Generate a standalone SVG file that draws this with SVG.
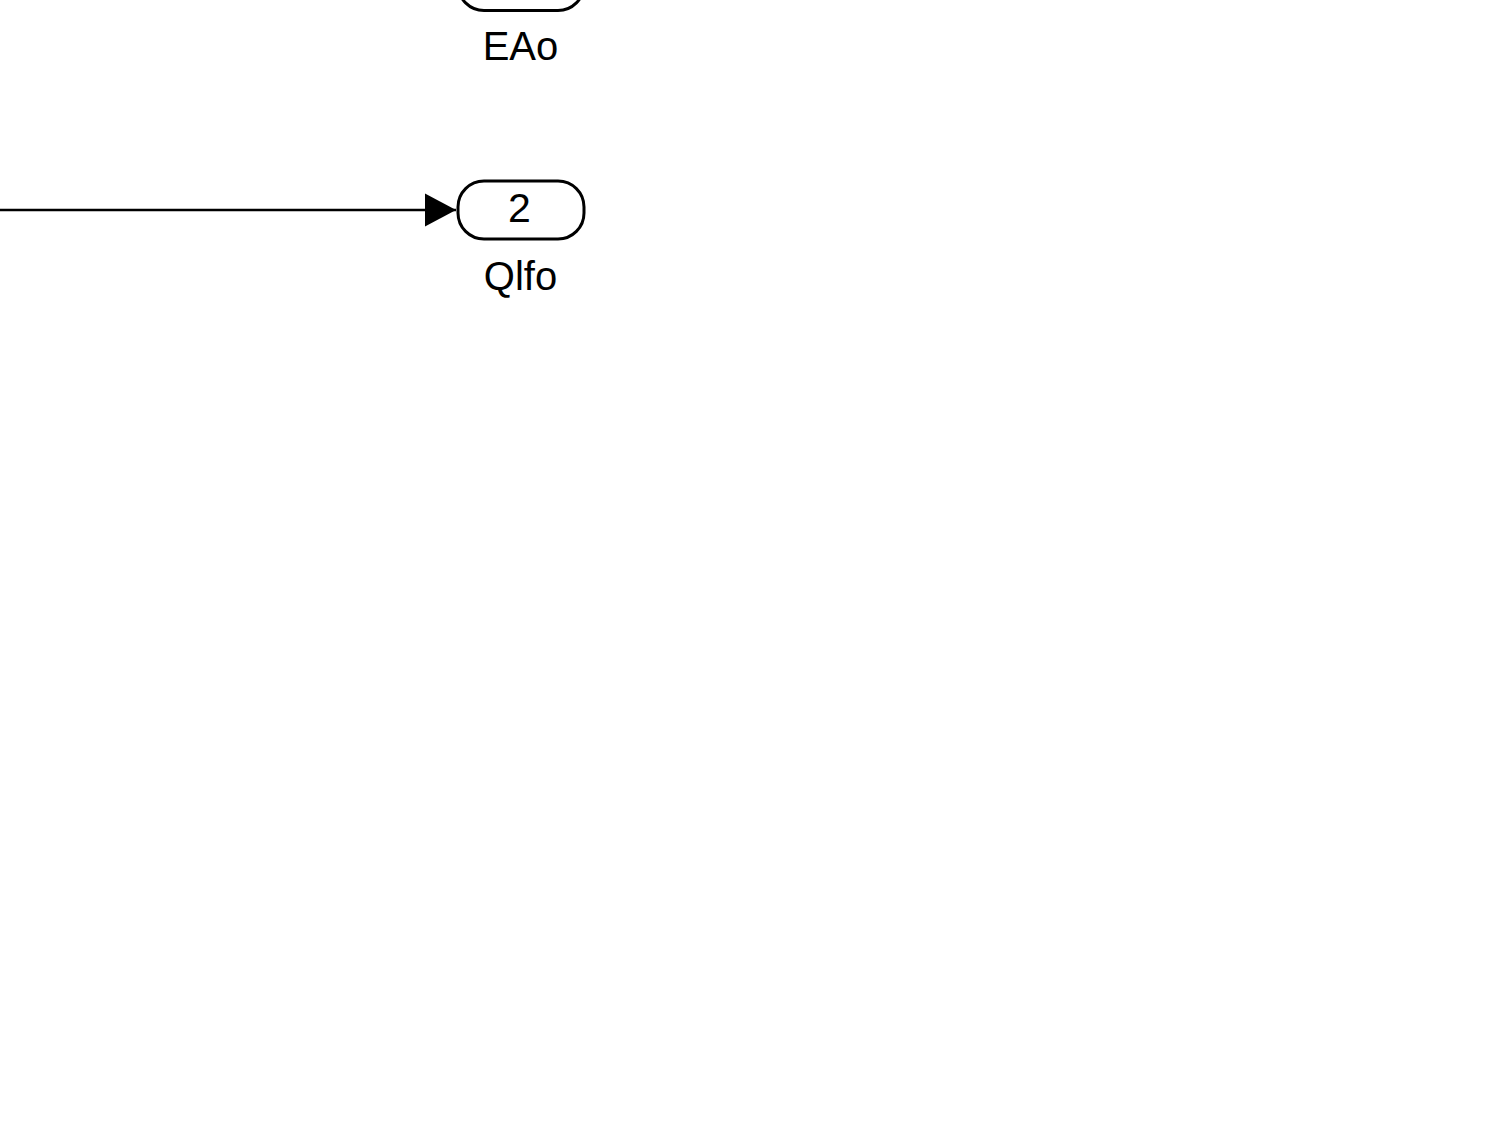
<svg xmlns="http://www.w3.org/2000/svg" width="1503" height="1128" viewBox="0 0 1503 1128">
<defs>
<style>
.port{fill:#fff;stroke:#000;stroke-width:3}
.num{font-family:"Liberation Sans",Arial,sans-serif;font-size:41px;fill:#000;text-anchor:middle}
.lbl{font-family:"Liberation Sans",Arial,sans-serif;font-size:40px;fill:#000;text-anchor:middle}
.wire{stroke:#000;stroke-width:2.4;fill:none}
</style>
<marker id="arr" markerWidth="32" markerHeight="34" refX="31" refY="17" markerUnits="userSpaceOnUse" orient="auto">
<polygon points="0,0.5 31,17 0,33.5" fill="#000"/>
</marker>
</defs>
<rect width="1503" height="1128" fill="#fff"/>
<g id="connectors">
<path class="wire" d="M0,210 H456" marker-end="url(#arr)"/>
</g>
<g id="node-EAo">
<rect class="port" x="458" y="-47.5" width="126" height="58" rx="26" ry="26"/>
<text class="lbl" x="520.5" y="60">EAo</text>
</g>
<g id="node-Qlfo">
<rect class="port" x="458" y="181" width="126" height="58" rx="26" ry="26"/>
<text class="num" x="519.5" y="222">2</text>
<text class="lbl" x="520.5" y="290">Qlfo</text>
</g>
</svg>
